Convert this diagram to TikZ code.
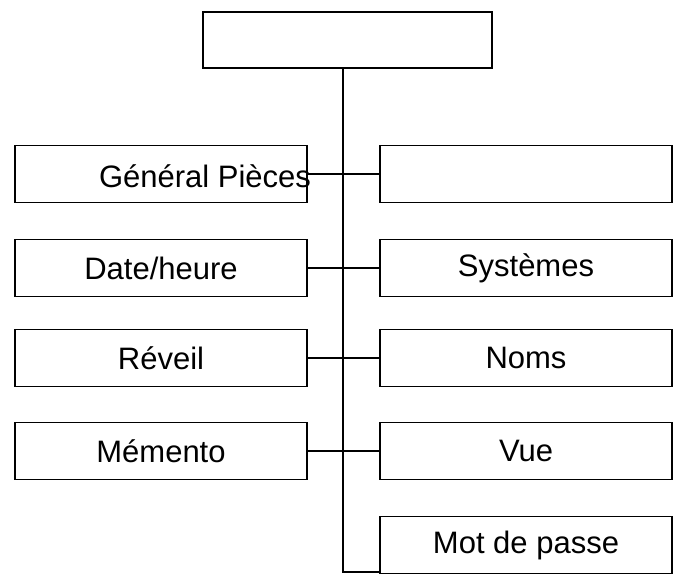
\documentclass[tikz,border=0pt]{standalone}
\usepackage{fontspec}
\setmainfont{Liberation Sans}
\begin{document}
\begin{tikzpicture}[x=1pt,y=-1pt,
    box/.style={draw, line width=1.2pt, minimum width=292pt, minimum height=57pt, inner sep=0pt, font=\fontsize{31}{36}\selectfont},
    link/.style={line width=1.2pt}]
    \useasboundingbox (0,0) rectangle (676,579);
    % top
    \node[box, minimum width=289pt, minimum height=56pt] (top) at (347.5,40) {};
    % left column
    \node[box] (gen) at (161,174) {};
    \node[font=\fontsize{31}{36}\selectfont] (genlab) at (205,176) {Général Pièces};
    \node[box] (date) at (161,268) {Date/heure};
    \node[box] (rev) at (161,358) {Réveil};
    \node[box] (mem) at (161,451) {Mémento};
    % right column
    \node[box] (blank) at (526,174) {};
    \node[box] (sys) at (526,268) {Systèmes};
    \node[box] (noms) at (526,358) {Noms};
    \node[box] (vue) at (526,451) {Vue};
    \node[box] (mdp) at (526,545) {Mot de passe};
    % connectors
    \coordinate (bend) at (343,572);
    \draw[link] (top.south -| bend) -- (bend) -- (bend -| mdp.west);
    \draw[link] (gen.east) -- (blank.west);
    \draw[link, line width=2pt] (date.east) -- (sys.west);
    \draw[link] (rev.east) -- (noms.west);
    \draw[link, line width=2pt] (mem.east) -- (vue.west);
\end{tikzpicture}
\end{document}
